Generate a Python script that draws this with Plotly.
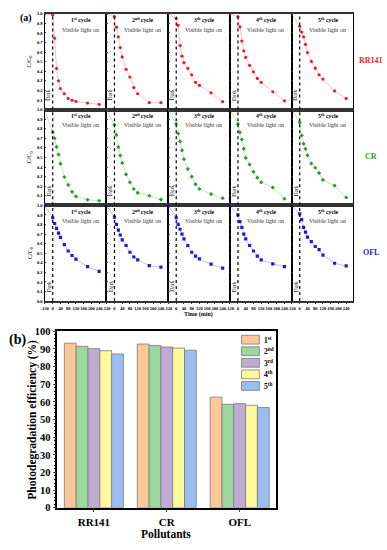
import plotly.graph_objects as go

W, H = 387, 550
SERIF = "Liberation Serif"

# ---------------- data: panel (a) ----------------
pollutants = ["RR141", "CR", "OFL"]
cycle_titles = ["1<sup>st</sup> cycle", "2<sup>nd</sup> cycle", "3<sup>th</sup> cycle",
                "4<sup>th</sup> cycle", "5<sup>th</sup> cycle"]
time_min = [-120, 0, 10, 20, 30, 40, 60, 80, 100, 120, 180, 240]
time_ticks = [-120, 0, 40, 80, 120, 160, 200, 240]

rr141 = [
    [1.0, 0.99, 0.745, 0.43, 0.30, 0.22, 0.165, 0.116, 0.096, 0.086, 0.068, 0.055],
    [1.0, 0.97, 0.86, 0.76, 0.647, 0.55, 0.42, 0.34, 0.23, 0.165, 0.072, 0.072],
    [1.0, 0.95, 0.88, 0.668, 0.558, 0.49, 0.43, 0.363, 0.284, 0.253, 0.175, 0.082],
    [1.0, 0.97, 0.863, 0.716, 0.613, 0.545, 0.462, 0.394, 0.325, 0.284, 0.185, 0.092],
    [1.0, 0.87, 0.81, 0.76, 0.68, 0.596, 0.503, 0.432, 0.363, 0.318, 0.195, 0.116],
]
cr = [
    [1.0, 0.763, 0.70, 0.61, 0.53, 0.436, 0.296, 0.213, 0.141, 0.093, 0.058, 0.048],
    [1.0, 0.84, 0.735, 0.608, 0.52, 0.443, 0.323, 0.24, 0.17, 0.13, 0.10, 0.06],
    [1.0, 0.85, 0.75, 0.667, 0.574, 0.481, 0.38, 0.30, 0.22, 0.17, 0.117, 0.075],
    [1.0, 0.85, 0.763, 0.687, 0.59, 0.495, 0.426, 0.35, 0.289, 0.24, 0.186, 0.069],
    [1.0, 0.866, 0.729, 0.643, 0.59, 0.522, 0.436, 0.392, 0.337, 0.265, 0.206, 0.082],
]
ofl = [
    [1.0, 0.87, 0.81, 0.76, 0.71, 0.666, 0.59, 0.523, 0.476, 0.438, 0.36, 0.31],
    [1.0, 0.877, 0.80, 0.74, 0.69, 0.64, 0.58, 0.51, 0.46, 0.43, 0.37, 0.354],
    [1.0, 0.87, 0.80, 0.75, 0.70, 0.65, 0.58, 0.51, 0.47, 0.44, 0.385, 0.344],
    [1.0, 0.90, 0.83, 0.77, 0.70, 0.65, 0.58, 0.523, 0.469, 0.43, 0.388, 0.36],
    [1.0, 0.91, 0.85, 0.77, 0.72, 0.667, 0.62, 0.57, 0.538, 0.48, 0.395, 0.367],
]

# ---------------- data: panel (b) ----------------
bar_categories = ["RR141", "CR", "OFL"]
cycle_names = ["1<sup>st</sup>", "2<sup>nd</sup>", "3<sup>rd</sup>", "4<sup>th</sup>", "5<sup>th</sup>"]
eff_1st = [93.3, 92.8, 62.7]
eff_2nd = [91.5, 92.0, 58.6]
eff_3rd = [90.2, 91.1, 59.0]
eff_4th = [89.0, 90.5, 58.1]
eff_5th = [87.2, 89.3, 56.8]

# ---------------- styles ----------------
series_data = [rr141, cr, ofl]
mk_colors = ["#EE1C24", "#2A9A2A", "#1A1ADB"]
ln_colors = ["rgba(238,28,36,0.35)", "rgba(42,154,42,0.35)", "rgba(26,26,219,0.35)"]
mk_symbols = ["circle", "diamond", "square"]
bar_fill = ["#FDC898", "#9BD89C", "#C0AAD6", "#FFF99B", "#9CBDF1"]


def dark_compress(t):
    # the dark period (-120..0 min) is drawn compressed on the time axis
    return t * 0.35 if t < 0 else t


def px_x(v):
    return v / W


def px_y(v):
    return 1 - v / H


def paper_text(x, y, text, size, color="black", angle=0, xanchor="center"):
    return dict(xref="paper", yref="paper", x=px_x(x), y=px_y(y), text=text, textangle=angle,
                xanchor=xanchor, yanchor="middle", showarrow=False,
                font=dict(family=SERIF, size=size, color=color))


fig = go.Figure()
layout = {}
shapes = []
annotations = []

col_left, col_w = 41.0, 62.4
row_top, row_h = 9.0, 97.7
x_range = [dark_compress(-120), 277]

for r in range(3):
    for c in range(5):
        k = r * 5 + c + 1
        xa = "xaxis" if k == 1 else f"xaxis{k}"
        ya = "yaxis" if k == 1 else f"yaxis{k}"
        xr = "x" if k == 1 else f"x{k}"
        yr = "y" if k == 1 else f"y{k}"
        x0 = col_left + c * col_w
        y0 = row_top + r * row_h
        fig.add_trace(go.Scatter(
            x=[dark_compress(t) for t in time_min], y=series_data[r][c],
            xaxis=xr, yaxis=yr, mode="lines+markers",
            line=dict(color=ln_colors[r], width=0.8),
            marker=dict(color=mk_colors[r], size=3.2, symbol=mk_symbols[r]),
            showlegend=False, hoverinfo="skip"))
        bottom = r == 2
        layout[xa] = dict(
            domain=[px_x(x0), px_x(x0 + col_w)], anchor=yr, range=x_range,
            showgrid=False, zeroline=False, showline=True, mirror=True,
            linecolor="#333", linewidth=1.6,
            tickvals=[dark_compress(t) for t in time_ticks],
            ticktext=[str(t) for t in time_ticks], tickangle=0,
            showticklabels=bottom, ticks="outside" if bottom else "", ticklen=1.5,
            tickfont=dict(family=SERIF, size=4.6, color="black", weight="bold"),
            fixedrange=True)
        yt = [i / 10 for i in range(0 if bottom else 1, 11)]
        layout[ya] = dict(
            domain=[px_y(y0 + row_h), px_y(y0)], anchor=xr, range=[0, 1.0],
            showgrid=False, zeroline=False, showline=True, mirror=True,
            linecolor="black", linewidth=1.0,
            tickvals=yt, ticktext=[f"{v:.1f}" for v in yt],
            showticklabels=(c == 0), ticks="inside", ticklen=1.5,
            tickfont=dict(family=SERIF, size=4.6, color="black", weight="bold"),
            fixedrange=True)
        shapes.append(dict(type="line", xref=xr, yref=f"{yr} domain", x0=0, x1=0, y0=0, y1=1,
                           line=dict(color="black", width=1.2, dash="dot")))
        annotations.append(dict(xref=xr, yref=yr, x=-21, y=0.15, text="Dark", textangle=-90,
                                xanchor="center", yanchor="middle",
                                showarrow=False, font=dict(family=SERIF, size=5.6, color="#222")))
        annotations.append(dict(xref=xr, yref=yr, x=148, y=0.94, text=f"<b>{cycle_titles[c]}</b>",
                                xanchor="center", yanchor="middle",
                                showarrow=False, font=dict(family=SERIF, size=5.8, color="black")))
        annotations.append(dict(xref=xr, yref=yr, x=143, y=0.835, text="Visible light on",
                                xanchor="center", yanchor="middle",
                                showarrow=False, font=dict(family=SERIF, size=6.0, color="#333")))
    ymid = row_top + (r + 0.5) * row_h
    annotations.append(paper_text(26, ymid, "C/C<sub>0</sub>", 6, angle=-90))
    annotations.append(paper_text(371, ymid - 1, f"<b>{pollutants[r]}</b>", 8, color=mk_colors[r]))

annotations.append(paper_text(197, 315.5, "<b>Time (min)</b>", 6))
annotations.append(paper_text(22.5, 13.5, "<b>(a)</b>", 10))

# ---------------- panel (b) ----------------
eff_series = [eff_1st, eff_2nd, eff_3rd, eff_4th, eff_5th]
for i, vals in enumerate(eff_series):
    fig.add_trace(go.Bar(x=bar_categories, y=vals, name=cycle_names[i], xaxis="x16", yaxis="y16",
                         marker=dict(color=bar_fill[i], line=dict(color="#7a7a7a", width=0.8)),
                         showlegend=False, hoverinfo="skip"))

layout["xaxis16"] = dict(domain=[px_x(54), px_x(275)], anchor="y16", showline=True, mirror=True,
                         linecolor="black", linewidth=1.5, showgrid=False, ticks="outside", ticklen=3,
                         tickfont=dict(family=SERIF, size=11, color="black", weight="bold"),
                         fixedrange=True)
layout["yaxis16"] = dict(domain=[px_y(513), px_y(333)], anchor="x16", range=[0, 100], dtick=10,
                         showline=True, mirror=True, linecolor="black", linewidth=1.5,
                         showgrid=False, zeroline=False, ticks="outside", ticklen=3,
                         minor=dict(ticks="outside", ticklen=1.5, dtick=2, tickcolor="black"),
                         tickfont=dict(family=SERIF, size=10.5, color="black", weight="bold"),
                         fixedrange=True)
annotations.append(paper_text(28.5, 423, "<b>Photodegradation efficiency (%)</b>", 11.5, angle=-90))
annotations.append(paper_text(164, 539.5, "<b>Pollutants</b>", 11.5))

# legend of panel (b)
leg_y = [341.5, 353.3, 365.1, 376.9, 388.7]
for i in range(5):
    shapes.append(dict(type="rect", xref="paper", yref="paper",
                       x0=px_x(240), x1=px_x(258), y0=px_y(leg_y[i] + 4.5), y1=px_y(leg_y[i] - 4.5),
                       fillcolor=bar_fill[i], line=dict(color="#7a7a7a", width=0.8)))
    annotations.append(paper_text(261, leg_y[i], f"<b>{cycle_names[i]}</b>", 7.5, xanchor="left"))

annotations.append(paper_text(13.5, 341.5, "<b>(b)</b>", 14))

fig.update_layout(
    width=W, height=H, margin=dict(l=0, r=0, t=0, b=0),
    paper_bgcolor="white", plot_bgcolor="white",
    barmode="group", bargap=0.19, bargroupgap=0,
    shapes=shapes, annotations=annotations, showlegend=False,
    font=dict(family=SERIF, color="black"),
    **layout)

fig.write_html("out.html", config={"displayModeBar": False},
               post_script="document.body.style.margin='0px';")
